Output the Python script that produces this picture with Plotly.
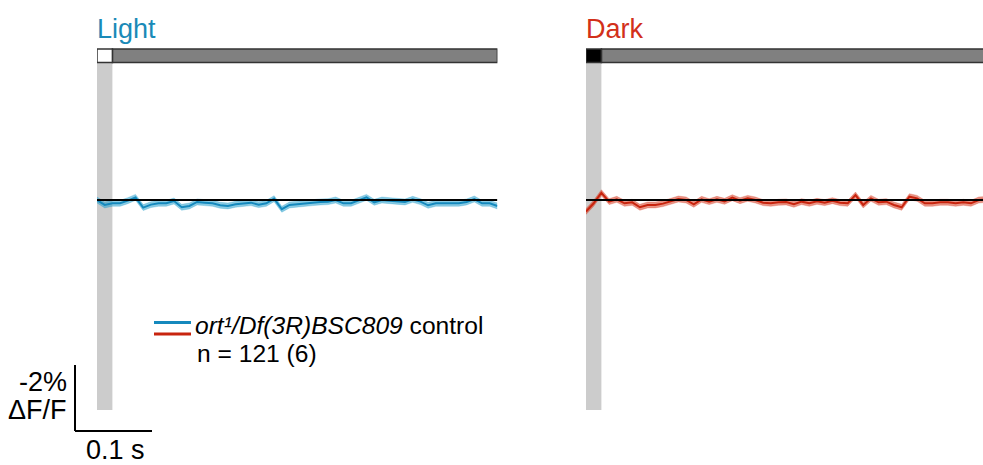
import plotly.graph_objects as go

# ---- data (ΔF/F in %, positive = downward, axis reversed) ----
time_s = [0.00, 0.01, 0.02, 0.03, 0.04, 0.05, 0.06, 0.07, 0.08, 0.09,
          0.10, 0.11, 0.12, 0.13, 0.14, 0.15, 0.16, 0.17, 0.18, 0.19,
          0.20, 0.21, 0.22, 0.23, 0.24, 0.25, 0.26, 0.27, 0.28, 0.29,
          0.30, 0.31, 0.32, 0.33, 0.34, 0.35, 0.36, 0.37, 0.38, 0.39,
          0.40, 0.41, 0.42, 0.43, 0.44, 0.45, 0.46, 0.47, 0.48, 0.49,
          0.50, 0.51, 0.52]
light_dff = [0.00, 0.15, 0.10, 0.10, 0.02, -0.08, 0.23, 0.14, 0.10, 0.10,
             0.03, 0.22, 0.18, 0.06, 0.08, 0.10, 0.16, 0.18, 0.13, 0.10,
             0.08, 0.14, 0.10, -0.04, 0.28, 0.15, 0.12, 0.10, 0.08, 0.06,
             0.05, 0.00, 0.10, 0.10, 0.02, -0.08, 0.07, 0.00, 0.02, 0.03,
             0.06, -0.02, 0.05, 0.16, 0.10, 0.10, 0.10, 0.10, 0.06, -0.03,
             0.10, 0.10, 0.18]
dark_dff = [0.35, 0.10, -0.22, 0.05, -0.02, 0.10, 0.07, 0.22, 0.15, 0.15,
            0.11, 0.05, -0.03, 0.00, 0.13, -0.02, 0.05, -0.02, 0.04, -0.07,
            0.02, -0.05, 0.00, 0.08, 0.10, 0.07, 0.06, 0.13, 0.05, 0.10,
            0.04, 0.08, 0.02, 0.08, 0.10, -0.15, 0.15, -0.05, 0.07, 0.05,
            0.15, 0.22, -0.10, -0.05, 0.10, 0.10, 0.07, 0.07, 0.10, 0.07,
            0.10, 0.00, -0.02]
sem_light = 0.09
sem_dark = 0.09
stim_duration = 0.02
window_end = 0.52
panel_titles = ["Light", "Dark"]
legend_label = "<i>ort¹/Df(3R)BSC809</i> control"
n_label = "n = 121 (6)"
scale_time = 0.1   # s
scale_dff = 2.0    # %

# ---- styling ----
W, H = 983, 465
BLUE = "#1589bd"
BLUE_BAND = "rgba(40,160,205,0.55)"
RED = "#c8240e"
RED_BAND = "rgba(215,60,35,0.55)"
TITLE_BLUE = "#1a8ab8"
TITLE_RED = "#d2301a"
FONT = "Liberation Sans, Arial, sans-serif"

PX_PER_S = 770.0
PX_PER_PCT = 33.0
ZERO_PY = 200.0
Y_RANGE = [(H - ZERO_PY) / PX_PER_PCT, (0 - ZERO_PY) / PX_PER_PCT]

def v(py):
    return (py - ZERO_PY) / PX_PER_PCT

light_x0 = 97
dark_x0 = 586

fig = go.Figure()

def add_panel(xname, yname, values, sem, color, band):
    upper = [a - sem for a in values]
    lower = [a + sem for a in values]
    fig.add_trace(go.Scatter(x=time_s, y=upper, mode="lines", line=dict(width=0.5, color=band),
                             xaxis=xname, yaxis=yname, showlegend=False, hoverinfo="skip"))
    fig.add_trace(go.Scatter(x=time_s, y=lower, mode="lines", line=dict(width=0.5, color=band),
                             fill="tonexty", fillcolor=band,
                             xaxis=xname, yaxis=yname, showlegend=False, hoverinfo="skip"))
    fig.add_trace(go.Scatter(x=time_s, y=values, mode="lines", line=dict(width=2, color=color),
                             xaxis=xname, yaxis=yname, showlegend=False))

add_panel("x", "y", light_dff, sem_light, BLUE, BLUE_BAND)
add_panel("x2", "y", dark_dff, sem_dark, RED, RED_BAND)

# overlay axis spanning the whole figure (for scale bar)
fig.add_trace(go.Scatter(x=[0], y=[0], mode="markers", marker=dict(opacity=0),
                         xaxis="x3", yaxis="y", showlegend=False, hoverinfo="skip"))

shapes = []
for xr, stim_fill in (("x", "white"), ("x2", "black")):
    # gray stimulus column
    shapes.append(dict(type="rect", xref=xr, yref="y", x0=0, x1=stim_duration,
                       y0=v(63), y1=v(410), fillcolor="#cccccc", line=dict(width=0), layer="below"))
    # top bar
    shapes.append(dict(type="rect", xref=xr, yref="y", x0=stim_duration, x1=window_end,
                       y0=v(49), y1=v(62.5), fillcolor="#808080",
                       line=dict(color="#333333", width=1.5), layer="above"))
    shapes.append(dict(type="rect", xref=xr, yref="y", x0=0, x1=stim_duration,
                       y0=v(49), y1=v(62.5), fillcolor=stim_fill,
                       line=dict(color="#333333", width=1.5), layer="above"))
    # zero baseline
    shapes.append(dict(type="line", xref=xr, yref="y", x0=0, x1=window_end, y0=0, y1=0,
                       line=dict(color="black", width=2), layer="above"))

# scale bar on full-width axis
sb_t0 = (75 - light_x0) / PX_PER_S
sb_v0 = v(431)
shapes.append(dict(type="line", xref="x3", yref="y", x0=sb_t0, x1=sb_t0 + scale_time,
                   y0=sb_v0, y1=sb_v0, line=dict(color="black", width=2)))
shapes.append(dict(type="line", xref="x3", yref="y", x0=sb_t0, x1=sb_t0,
                   y0=sb_v0, y1=sb_v0 - scale_dff, line=dict(color="black", width=2)))

# legend swatches
shapes.append(dict(type="line", xref="paper", yref="paper", x0=154 / W, x1=191 / W,
                   y0=1 - 322.5 / H, y1=1 - 322.5 / H, line=dict(color=BLUE, width=3)))
shapes.append(dict(type="line", xref="paper", yref="paper", x0=154 / W, x1=191 / W,
                   y0=1 - 334 / H, y1=1 - 334 / H, line=dict(color=RED, width=3)))

def ann(text, px, py, size, color="black", xanchor="left"):
    return dict(text=text, x=px / W, y=1 - py / H, xref="paper", yref="paper",
                xanchor=xanchor, yanchor="middle", showarrow=False,
                font=dict(family=FONT, size=size, color=color))

annotations = [
    ann(panel_titles[0], 95, 29, 27, TITLE_BLUE),
    ann(panel_titles[1], 584, 29, 27, TITLE_RED),
    ann(legend_label, 193, 325, 24.6),
    ann(n_label, 195, 353, 24.6),
    ann("-2%", 69, 382, 27, xanchor="right"),
    ann("ΔF/F", 69, 410, 27, xanchor="right"),
    ann("0.1 s", 115, 450, 27, xanchor="center"),
]

hidden = dict(visible=False, showgrid=False, zeroline=False, fixedrange=True)
light_end_px = light_x0 + window_end * PX_PER_S
fig.update_layout(
    width=W, height=H,
    margin=dict(l=0, r=0, t=0, b=0),
    paper_bgcolor="white", plot_bgcolor="rgba(0,0,0,0)",
    xaxis=dict(hidden, domain=[light_x0 / W, light_end_px / W], range=[0, window_end], anchor="y"),
    xaxis2=dict(hidden, domain=[dark_x0 / W, 1.0], range=[0, (W - dark_x0) / PX_PER_S], anchor="y"),
    xaxis3=dict(hidden, domain=[0, 1], range=[-light_x0 / PX_PER_S, (W - light_x0) / PX_PER_S], anchor="y"),
    yaxis=dict(hidden, domain=[0, 1], range=Y_RANGE),
    shapes=shapes,
    annotations=annotations,
    showlegend=False,
)

fig.write_html("out.html")
